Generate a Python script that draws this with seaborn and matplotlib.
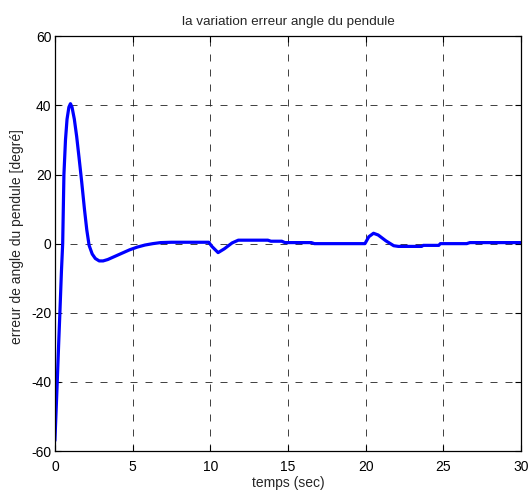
import matplotlib
matplotlib.use("Agg")
import matplotlib.pyplot as plt
import seaborn as sns
import pandas as pd

# Pendulum angle error over time
temps = [0.0, 0.08, 0.15, 0.25, 0.32, 0.42, 0.5, 0.58, 0.68, 0.78, 0.9, 1.0,
         1.1, 1.25, 1.4, 1.55, 1.72, 1.9, 2.05, 2.2, 2.4, 2.6, 2.85, 3.1,
         3.4, 3.8, 4.3, 4.8, 5.3, 5.8, 6.3, 6.8, 7.5, 9.9, 10.1, 10.5, 10.9,
         11.4, 11.8, 13.7, 13.9, 14.6, 14.8, 16.5, 16.7, 19.95, 20.2, 20.5,
         20.8, 21.3, 21.8, 22.1, 23.6, 23.7, 24.7, 24.8, 26.5, 26.7, 30.0]
erreur = [-57, -48, -40, -28, -20, -8, 0, 20, 30, 36, 39.5, 40.5,
          39.5, 36, 31, 25, 18, 10, 4, -0.5, -3, -4.3, -5, -5,
          -4.6, -3.8, -2.8, -1.8, -1.0, -0.4, 0.0, 0.3, 0.4, 0.4, -0.8, -2.6, -1.5,
          0.2, 1.0, 1.0, 0.7, 0.7, 0.3, 0.3, 0.0, 0.0, 2.0, 3.0,
          2.5, 0.8, -0.6, -0.8, -0.8, -0.5, -0.5, 0.0, 0.0, 0.3, 0.3]

x_ticks = [0, 5, 10, 15, 20, 25, 30]
y_ticks = [-60, -40, -20, 0, 20, 40, 60]

df = pd.DataFrame({"temps": temps, "erreur": erreur})

sns.set_theme(style="white")
plt.rcParams["font.family"] = ["Liberation Sans", "DejaVu Sans"]
plt.rcParams["axes.unicode_minus"] = False

fig = plt.figure(figsize=(5.28, 4.92), dpi=100)
ax = fig.add_axes([0.104, 0.0833, 0.883, 0.843])

sns.lineplot(data=df, x="temps", y="erreur", color="#0000ff", linewidth=2.3,
             ax=ax, sort=False)

ax.set_xlim(0, 30)
ax.set_ylim(-60, 60)
ax.set_xticks(x_ticks)
ax.set_yticks(y_ticks)
ax.grid(True, color="#202020", linestyle=(0, (8.4, 9.6)), linewidth=0.6)
ax.tick_params(direction="in", length=4, width=0.8, labelsize=10, colors="black",
               top=True, right=True, bottom=True, left=True)
ax.tick_params(axis="x", pad=6.5)
ax.tick_params(axis="y", pad=2.5)
for s in ax.spines.values():
    s.set_color("black")
    s.set_linewidth(0.9)

ax.set_title("la variation erreur angle du pendule", fontsize=9.7, pad=8)
ax.set_xlabel("temps (sec)", fontsize=10, labelpad=1.2)
ax.set_ylabel("erreur de angle du pendule [degré]", fontsize=10)
ax.yaxis.set_label_coords(-0.066, 0.517)

fig.savefig("out.png", dpi=100)
